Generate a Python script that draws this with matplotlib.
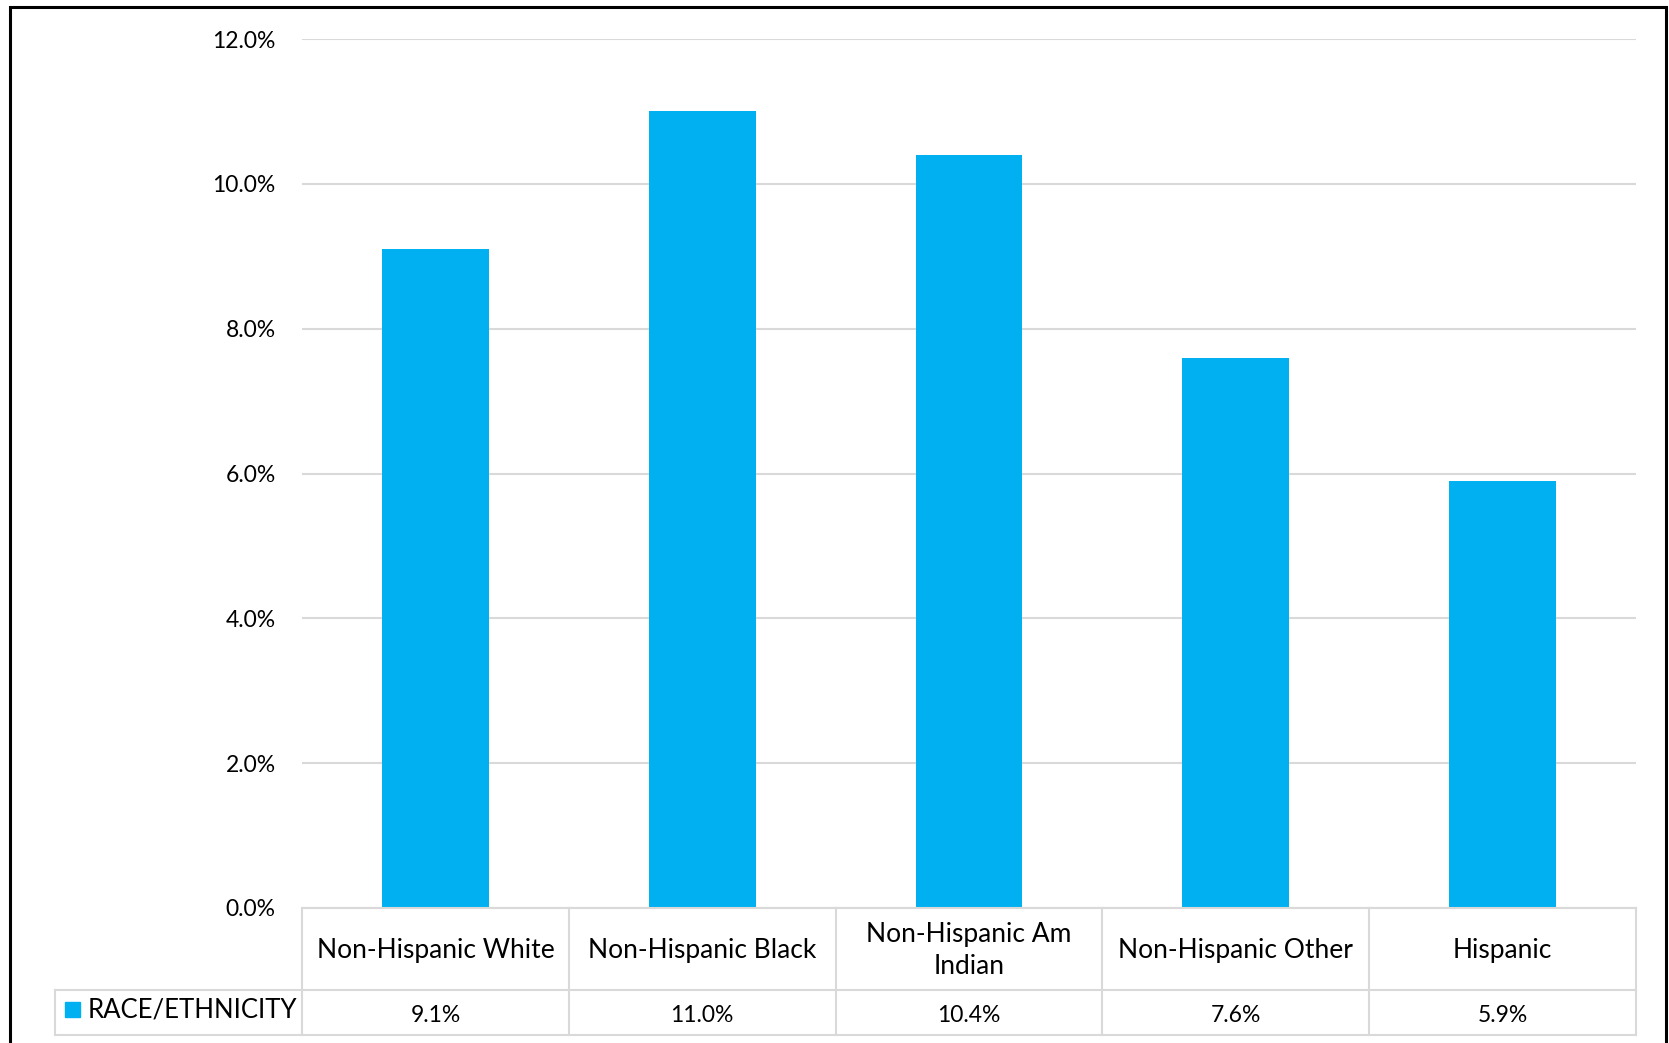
import matplotlib
matplotlib.use("Agg")
import matplotlib.pyplot as plt
from matplotlib.patches import Rectangle
from matplotlib.transforms import blended_transform_factory
from matplotlib.ticker import FuncFormatter

categories = ["Non-Hispanic White", "Non-Hispanic Black", "Non-Hispanic Am\nIndian",
              "Non-Hispanic Other", "Hispanic"]
rates = [9.1, 11.0, 10.4, 7.6, 5.9]
series_name = "RACE/ETHNICITY"
y_ticks = [0, 2, 4, 6, 8, 10, 12]

BLUE = "#00B0F0"
GRID = "#D9D9D9"

plt.rcParams["font.family"] = ["Lato", "DejaVu Sans"]
plt.rcParams["font.size"] = 16

W, H = 1669, 1043
fig = plt.figure(figsize=(W / 100, H / 100), dpi=100)

# plot area in pixels
px_left, px_right, px_top, px_zero = 302, 1636, 39, 908
row1_bottom, row2_bottom, legend_left = 990, 1035, 55

ax = fig.add_axes([px_left / W, 1 - px_zero / H,
                   (px_right - px_left) / W, (px_zero - px_top) / H])
x = range(len(categories))
ax.bar(x, rates, width=0.4, color=BLUE, zorder=3)
ax.set_xlim(-0.5, len(categories) - 0.5)
ax.set_ylim(0, 12)
ax.set_yticks(y_ticks)
ax.yaxis.set_major_formatter(FuncFormatter(lambda v, _: f"{v:.1f}%"))
ax.tick_params(axis="y", length=0, pad=19, labelsize=16.5)
ax.tick_params(axis="x", bottom=False, labelbottom=False)
for s in ax.spines.values():
    s.set_visible(False)
ax.grid(axis="y", color=GRID, lw=1.5, zorder=0)

# data table underneath the bars
tax = fig.add_axes([legend_left / W, 1 - row2_bottom / H,
                    (px_right - legend_left) / W, (row2_bottom - px_zero) / H])
tax.axis("off")
tr = blended_transform_factory(ax.transData, tax.transAxes)
n = len(categories)
col_w = (px_right - px_left) / n
tab_h = row2_bottom - px_zero
x_leg = -0.5 - (px_left - legend_left) / col_w
y_mid = 1 - (row1_bottom - px_zero) / tab_h

line_kw = dict(color=GRID, lw=1.5, transform=tr, clip_on=False)
tax.plot([-0.5, n - 0.5], [1, 1], **line_kw)
tax.plot([x_leg, n - 0.5], [y_mid, y_mid], **line_kw)
tax.plot([x_leg, n - 0.5], [0, 0], **line_kw)
tax.plot([x_leg, x_leg], [0, y_mid], **line_kw)
for i in range(n + 1):
    tax.plot([i - 0.5, i - 0.5], [0, 1], **line_kw)

for i, (cat, val) in enumerate(zip(categories, rates)):
    tax.text(i, (1 + y_mid) / 2 - 0.01, cat, ha="center", va="center", fontsize=19,
             linespacing=1.35, transform=tr)
    tax.text(i, y_mid / 2 - 0.02, f"{val:.1f}%", ha="center", va="center",
             fontsize=16.5, transform=tr)

# legend key in the first column
key = 15
tax.add_patch(Rectangle((x_leg + (65 - legend_left) / col_w, y_mid / 2 - key / 2 / tab_h + 0.02),
                        key / col_w, key / tab_h, color=BLUE, transform=tr, clip_on=False))
tax.text(x_leg + (88 - legend_left) / col_w, y_mid / 2 + 0.02, series_name,
         ha="left", va="center", fontsize=18.5, transform=tr)

# outer frame
fig.patches.append(Rectangle((10 / W, -0.05), (1666 - 10) / W, 1.05 - 7 / H,
                             fill=False, edgecolor="black", lw=2.2,
                             transform=fig.transFigure))

fig.savefig("out.png", dpi=100)
